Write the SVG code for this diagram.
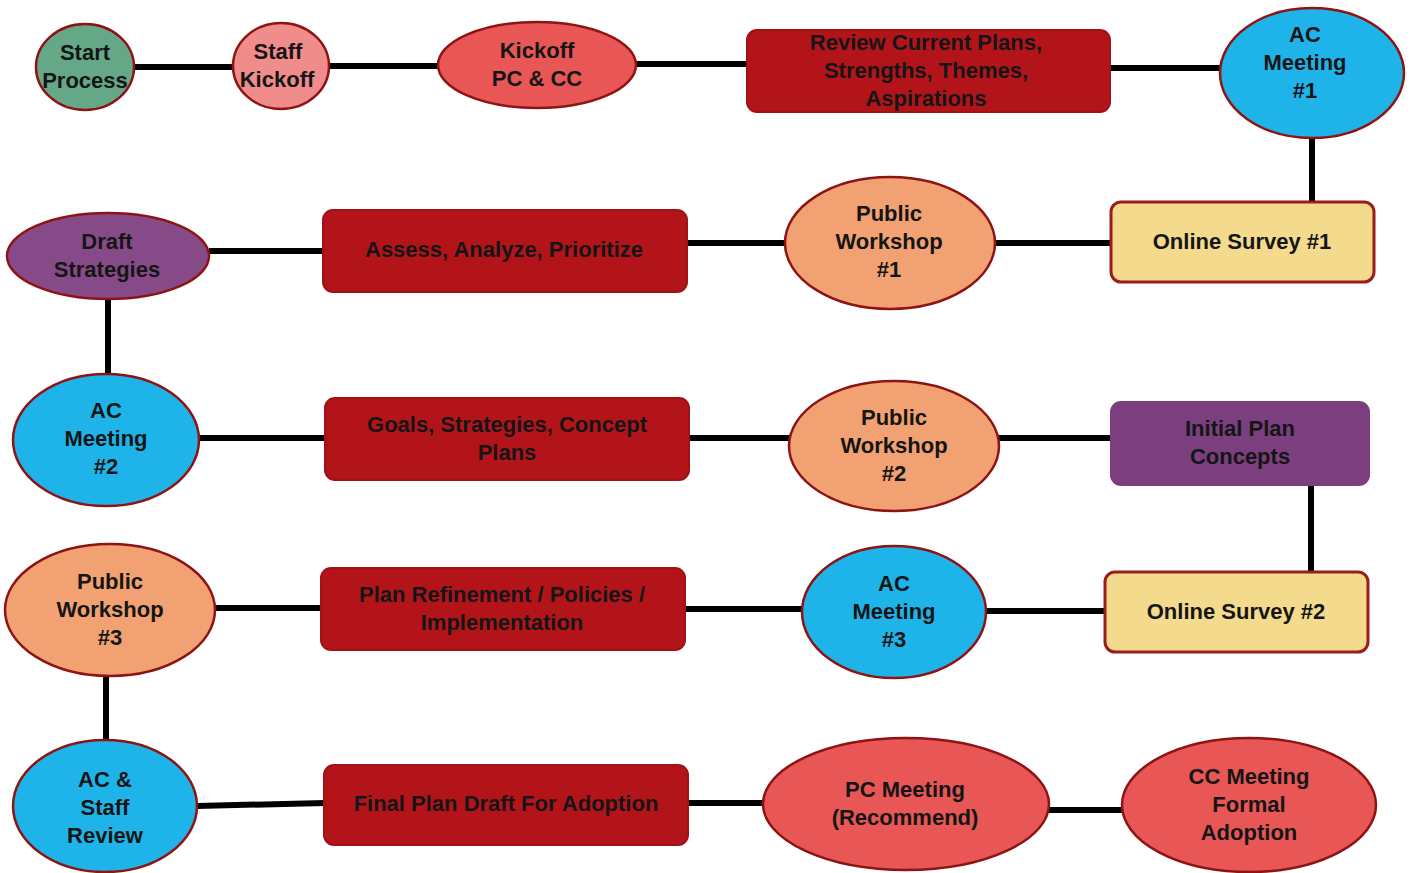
<svg xmlns="http://www.w3.org/2000/svg" width="1419" height="873" viewBox="0 0 1419 873">
<style>
.n{stroke:#8e1414;stroke-width:2.5}
.t{font-family:"Liberation Sans",Arial,sans-serif;font-weight:bold;font-size:22px;fill:#151515;text-anchor:middle}
.c line{stroke:#000;stroke-width:6;stroke-linecap:butt}
.green{fill:#64a888}
.pink{fill:#f08c8c}
.red{fill:#e85656}
.dark{fill:#b3141a;stroke:#a01216;stroke-width:2}
.blue{fill:#1eb4ea}
.orange{fill:#f2a272}
.purple{fill:#874a88}
.yellow{fill:#f4da8c;stroke:#9a1c1c;stroke-width:3}
.vio{fill:#7b3f7f;stroke:#7b3f7f;stroke-width:2}
</style>
<rect width="1419" height="873" fill="#fff"/>
<g class="c" id="connectors">
<line x1="133" y1="67" x2="234" y2="67"/>
<line x1="329" y1="66" x2="440" y2="66"/>
<line x1="636" y1="64" x2="748" y2="64"/>
<line x1="1109" y1="68" x2="1222" y2="68"/>
<line x1="1312" y1="136" x2="1312" y2="203"/>
<line x1="994" y1="243" x2="1112" y2="243"/>
<line x1="686" y1="243" x2="786" y2="243"/>
<line x1="209" y1="251" x2="324" y2="251"/>
<line x1="108" y1="297" x2="108" y2="376"/>
<line x1="198" y1="438" x2="326" y2="438"/>
<line x1="688" y1="438" x2="790" y2="438"/>
<line x1="998" y1="438" x2="1111" y2="438"/>
<line x1="1311" y1="478" x2="1311" y2="573"/>
<line x1="985" y1="611" x2="1106" y2="611"/>
<line x1="684" y1="609" x2="803" y2="609"/>
<line x1="214" y1="608" x2="322" y2="608"/>
<line x1="106" y1="675" x2="106" y2="743"/>
<line x1="197" y1="806" x2="325" y2="803"/>
<line x1="687" y1="803" x2="764" y2="803"/>
<line x1="1048" y1="810" x2="1123" y2="810"/>
</g>
<g id="start"><ellipse class="n green" cx="85" cy="67" rx="49" ry="43"/><text class="t" x="85" y="60">Start</text><text class="t" x="85" y="88">Process</text></g>
<g id="staff"><ellipse class="n pink" cx="281" cy="66" rx="48" ry="43"/><text class="t" x="278" y="59">Staff</text><text class="t" x="277" y="87">Kickoff</text></g>
<g id="kickoff"><ellipse class="n red" cx="537" cy="65" rx="99" ry="43"/><text class="t" x="537" y="58">Kickoff</text><text class="t" x="537" y="86">PC &amp; CC</text></g>
<g id="review"><rect class="dark" x="747" y="30" width="363" height="82" rx="10"/><text class="t" x="926" y="50">Review Current Plans,</text><text class="t" x="926" y="78">Strengths, Themes,</text><text class="t" x="926" y="106">Aspirations</text></g>
<g id="ac1"><ellipse class="n blue" cx="1312" cy="73" rx="92" ry="65"/><text class="t" x="1305" y="42">AC</text><text class="t" x="1305" y="70">Meeting</text><text class="t" x="1305" y="98">#1</text></g>
<g id="survey1"><rect class="yellow" x="1111" y="202" width="263" height="80" rx="10"/><text class="t" x="1242" y="249">Online Survey #1</text></g>
<g id="pw1"><ellipse class="n orange" cx="890" cy="243" rx="105" ry="66"/><text class="t" x="889" y="221">Public</text><text class="t" x="889" y="249">Workshop</text><text class="t" x="889" y="277">#1</text></g>
<g id="assess"><rect class="dark" x="323" y="210" width="364" height="82" rx="10"/><text class="t" x="504" y="257">Assess, Analyze, Prioritize</text></g>
<g id="draft"><ellipse class="n purple" cx="108" cy="256" rx="101" ry="43"/><text class="t" x="107" y="249">Draft</text><text class="t" x="107" y="277">Strategies</text></g>
<g id="ac2"><ellipse class="n blue" cx="106" cy="440" rx="93" ry="66"/><text class="t" x="106" y="418">AC</text><text class="t" x="106" y="446">Meeting</text><text class="t" x="106" y="474">#2</text></g>
<g id="goals"><rect class="dark" x="325" y="398" width="364" height="82" rx="10"/><text class="t" x="507" y="432">Goals, Strategies, Concept</text><text class="t" x="507" y="460">Plans</text></g>
<g id="pw2"><ellipse class="n orange" cx="894" cy="446" rx="105" ry="65"/><text class="t" x="894" y="425">Public</text><text class="t" x="894" y="453">Workshop</text><text class="t" x="894" y="481">#2</text></g>
<g id="initial"><rect class="vio" x="1111" y="402" width="258" height="83" rx="10"/><text class="t" x="1240" y="436">Initial Plan</text><text class="t" x="1240" y="464">Concepts</text></g>
<g id="survey2"><rect class="yellow" x="1105" y="572" width="263" height="80" rx="10"/><text class="t" x="1236" y="619">Online Survey #2</text></g>
<g id="ac3"><ellipse class="n blue" cx="894" cy="612" rx="92" ry="66"/><text class="t" x="894" y="591">AC</text><text class="t" x="894" y="619">Meeting</text><text class="t" x="894" y="647">#3</text></g>
<g id="refine"><rect class="dark" x="321" y="568" width="364" height="82" rx="10"/><text class="t" x="502" y="602">Plan Refinement / Policies /</text><text class="t" x="502" y="630">Implementation</text></g>
<g id="pw3"><ellipse class="n orange" cx="110" cy="610" rx="105" ry="66"/><text class="t" x="110" y="589">Public</text><text class="t" x="110" y="617">Workshop</text><text class="t" x="110" y="645">#3</text></g>
<g id="acstaff"><ellipse class="n blue" cx="105" cy="806" rx="92" ry="66"/><text class="t" x="105" y="787">AC &amp;</text><text class="t" x="105" y="815">Staff</text><text class="t" x="105" y="843">Review</text></g>
<g id="final"><rect class="dark" x="324" y="765" width="364" height="80" rx="10"/><text class="t" x="506" y="811">Final Plan Draft For Adoption</text></g>
<g id="pc"><ellipse class="n red" cx="906" cy="804" rx="143" ry="66"/><text class="t" x="905" y="797">PC Meeting</text><text class="t" x="905" y="825">(Recommend)</text></g>
<g id="cc"><ellipse class="n red" cx="1249" cy="805" rx="127" ry="67"/><text class="t" x="1249" y="784">CC Meeting</text><text class="t" x="1249" y="812">Formal</text><text class="t" x="1249" y="840">Adoption</text></g>
</svg>
